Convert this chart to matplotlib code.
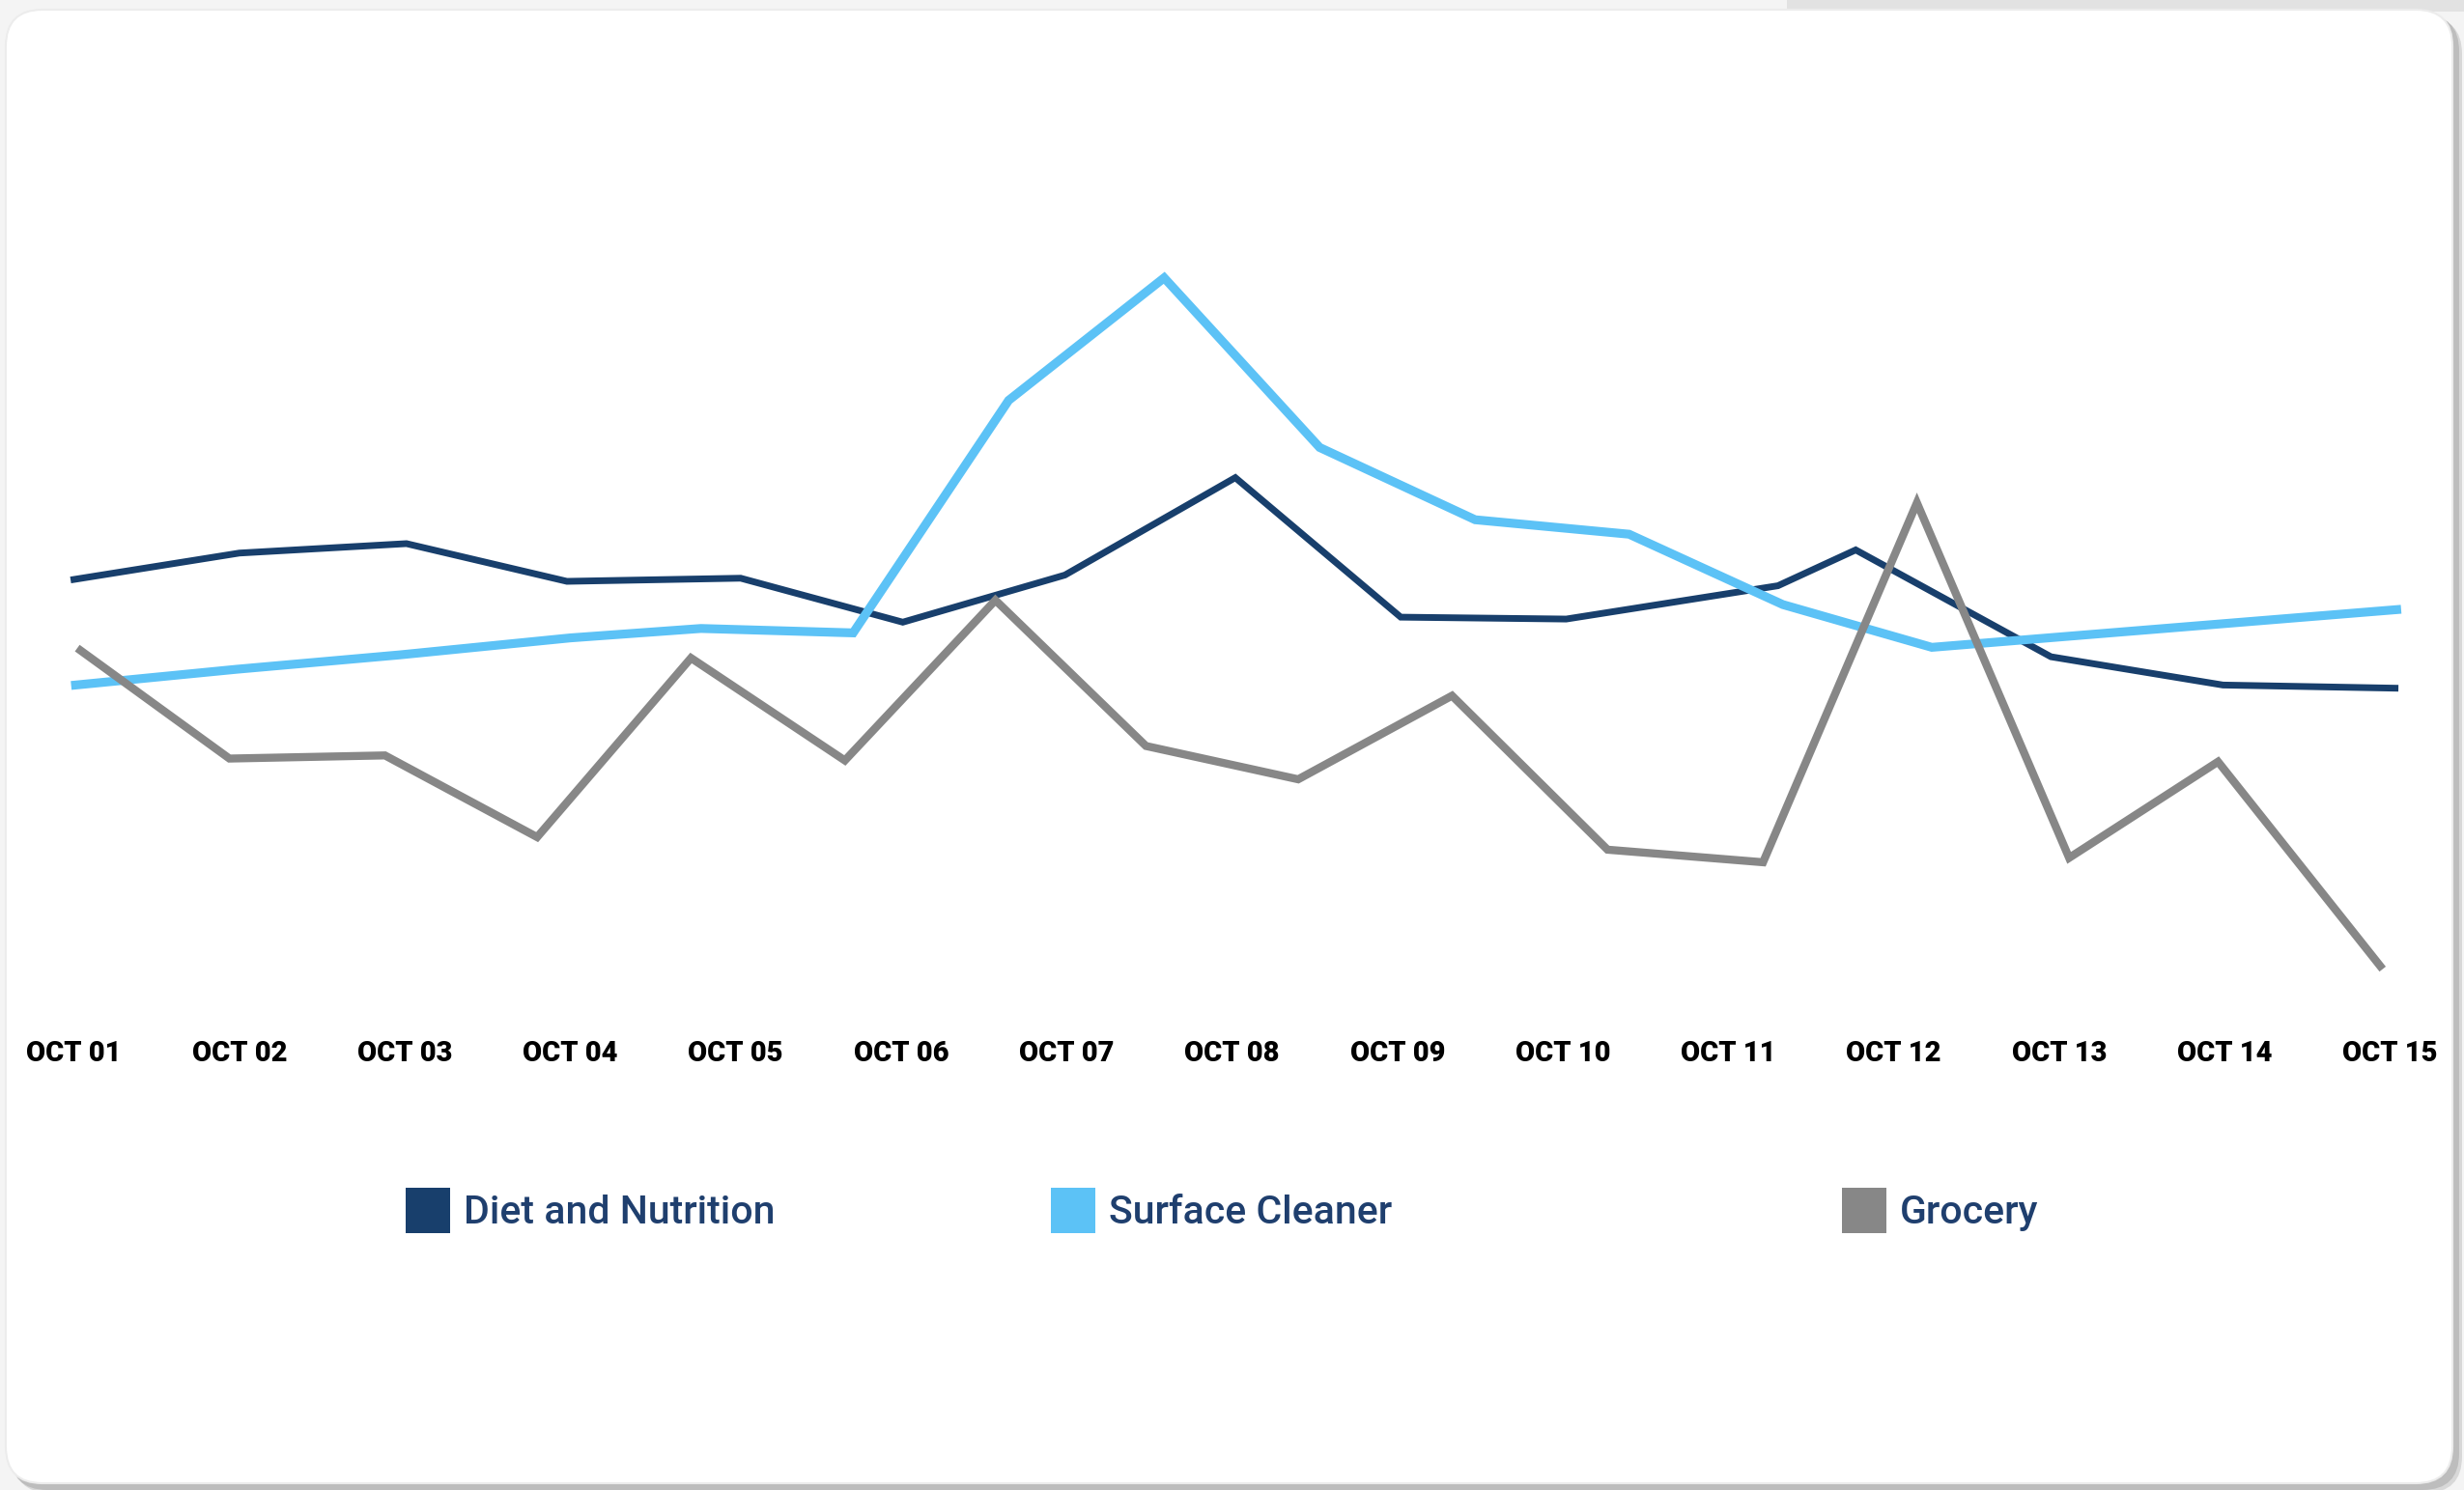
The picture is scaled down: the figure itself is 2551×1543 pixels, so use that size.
import matplotlib.pyplot as plt
from matplotlib.patches import FancyBboxPatch, Rectangle

# daily sales index per category (x is day offset from OCT 01)
days = ["OCT 01", "OCT 02", "OCT 03", "OCT 04", "OCT 05", "OCT 06", "OCT 07", "OCT 08",
        "OCT 09", "OCT 10", "OCT 11", "OCT 12", "OCT 13", "OCT 14", "OCT 15"]

diet_x = [0, 1.0, 2.01, 2.98, 4.03, 5.01, 5.99, 7.02, 8.02, 9.02, 10.3, 10.77, 11.95, 12.99, 14.03]
diet_y = [70.3, 74.5, 76.0, 70.0, 70.5, 63.5, 71.0, 86.5, 64.3, 64.0, 69.3, 75.0, 58.0, 53.5, 53.0]

surface_x = [0.01, 0.98, 1.97, 3.0, 3.79, 4.71, 5.65, 6.59, 7.53, 8.47, 9.4, 10.33, 11.23, 14.04]
surface_y = [53.5, 56.0, 58.3, 61.0, 62.5, 61.8, 98.8, 118.3, 91.3, 79.8, 77.5, 66.3, 59.5, 65.5]

grocery_x = [0.04, 0.94, 1.88, 2.8, 3.73, 4.66, 5.57, 6.48, 7.4, 8.33, 9.27, 10.21, 11.14,
             12.06, 12.96, 13.94]
grocery_y = [59.0, 41.8, 42.3, 29.3, 57.8, 41.5, 67.0, 43.8, 38.5, 51.8, 27.3, 25.3, 82.5,
             26.0, 41.3, 8.8]

names = ["Diet and Nutrition", "Surface Cleaner", "Grocery"]
colors = ["#183f6c", "#5cc2f6", "#878787"]
widths = [5.0, 6.6, 6.0]

plt.rcParams['font.family'] = ['Roboto', 'DejaVu Sans']

fig = plt.figure(figsize=(25.51, 15.43), dpi=100, facecolor='#f4f4f4')

# card background in pixel coordinates
bg = fig.add_axes([0, 0, 1, 1], zorder=0)
bg.set_xlim(0, 2551)
bg.set_ylim(1543, 0)
bg.axis('off')
bg.add_patch(Rectangle((1850, 0), 701, 12, color='#e2e2e2', lw=0))
for off, c in [(8, '#d8d8d8'), (5, '#bdbdbd')]:
    bg.add_patch(FancyBboxPatch((6 + off, 10 + off), 2535, 1528, lw=0, color=c,
                                boxstyle="round,pad=0,rounding_size=38"))
bg.add_patch(FancyBboxPatch((6, 10), 2533, 1526, facecolor='white',
                            edgecolor='#ececec', lw=1.5,
                            boxstyle="round,pad=0,rounding_size=38"))

ax = fig.add_axes([0.030, 0.3146, 0.940, 0.5483], zorder=1)
ax.patch.set_alpha(0)

series = [(diet_x, diet_y), (surface_x, surface_y), (grocery_x, grocery_y)]
for (xs, ys), c, lw in zip(series, colors, widths):
    ax.plot(xs, ys, color=c, lw=lw, solid_joinstyle='miter', clip_on=False)

ax.set_xlim(0, 14)
ax.set_ylim(0, 130)
ax.set_xticks(range(len(days)))
ax.set_xticklabels(days, fontsize=21, fontweight='heavy', color='black')
ax.tick_params(axis='x', length=0, pad=14)
ax.set_yticks([])
for s in ax.spines.values():
    s.set_visible(False)

# legend row
legend_x = [420, 1088, 1907]
for lx, name, c in zip(legend_x, names, colors):
    bg.add_patch(Rectangle((lx, 1230), 46, 47, color=c, lw=0))
    bg.text(lx + 60, 1256, name, fontsize=29.5, fontweight='medium', color='#1f3f6e',
            va='center', ha='left')

fig.savefig('out.png', dpi=100, facecolor=fig.get_facecolor())
